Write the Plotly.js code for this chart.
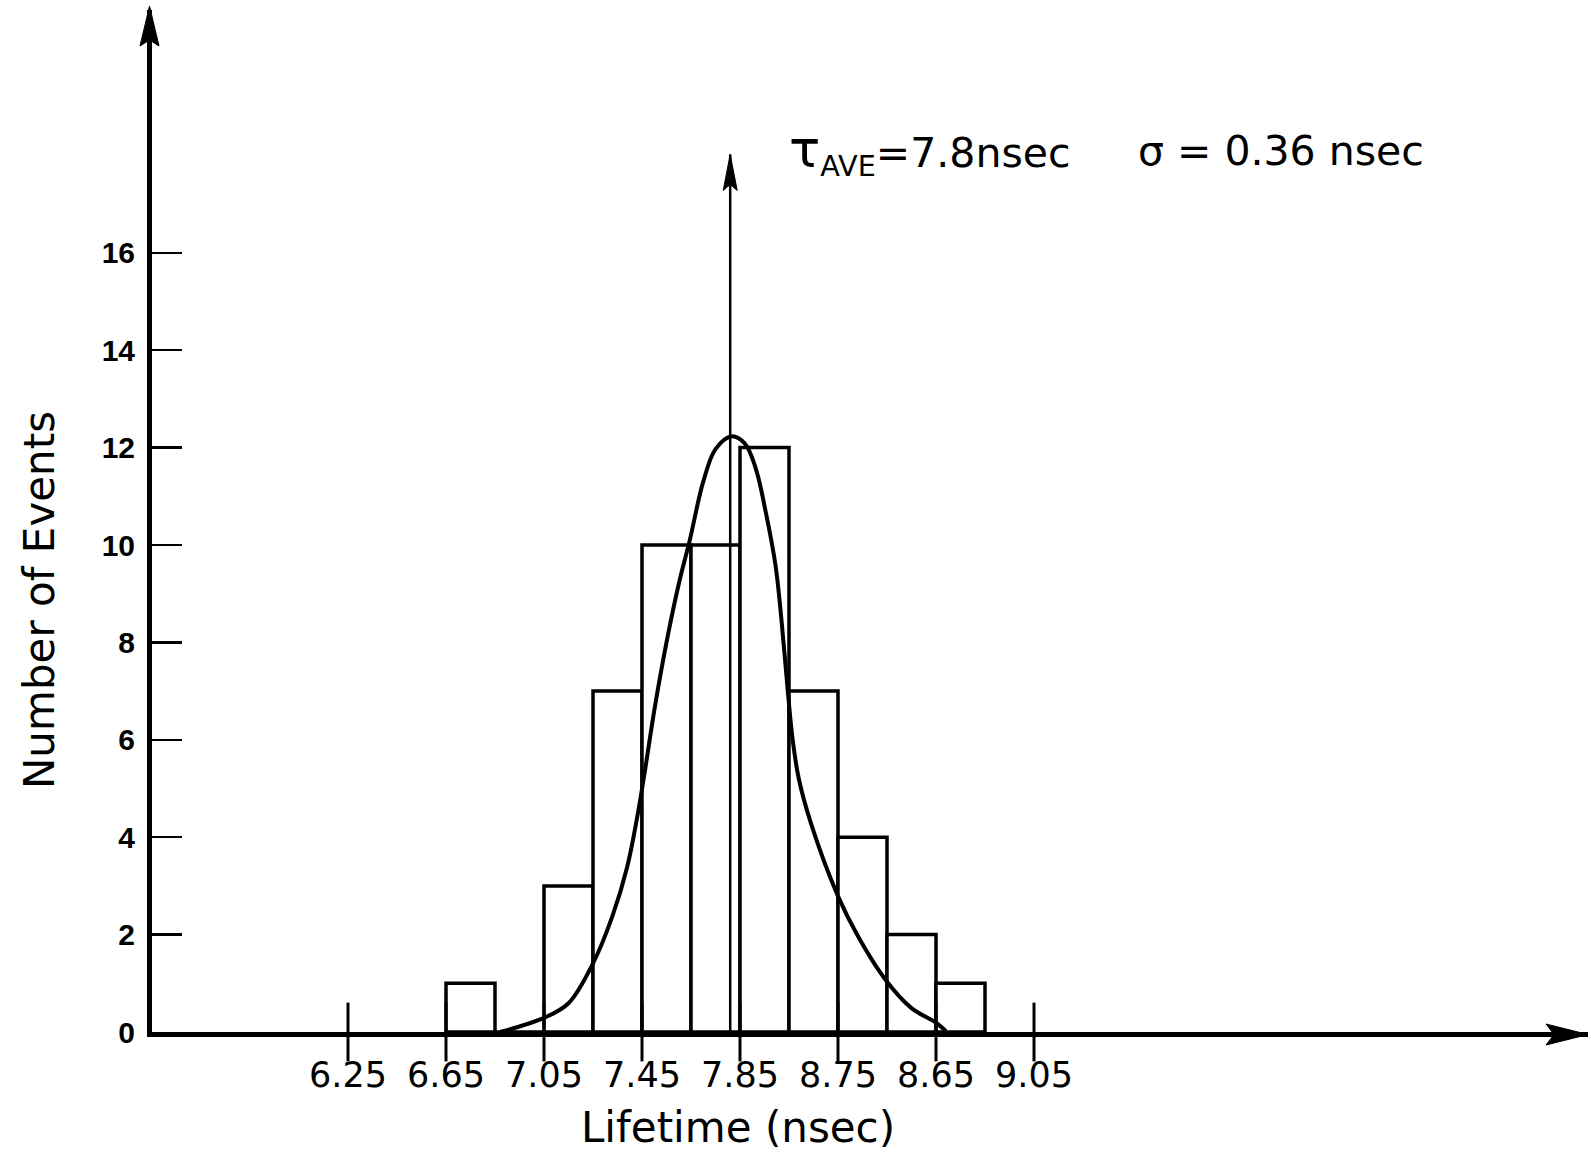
<!DOCTYPE html>
<html>
<head>
<meta charset="utf-8">
<script src="https://cdn.plot.ly/plotly-3.0.1.min.js"></script>
<style>html,body{margin:0;padding:0;background:#fff;}#chart{width:1591px;height:1157px;}</style>
</head>
<body>
<div id="chart"></div>
<script>
// ---- data ----
const binCenters = [6.75, 6.95, 7.15, 7.35, 7.55, 7.75, 7.95, 8.15, 8.35, 8.55, 8.75];
const eventCounts = [1, 0, 3, 7, 10, 10, 12, 7, 4, 2, 1];
const binWidth = 0.2;

const xTickValues = [6.25, 6.65, 7.05, 7.45, 7.85, 8.25, 8.65, 9.05];
const xTickLabels = ["6.25", "6.65", "7.05", "7.45", "7.85", "8.75", "8.65", "9.05"];
const yTickValues = [0, 2, 4, 6, 8, 10, 12, 14, 16];
const yTickLabels = ["0", "2", "4", "6", "8", "10", "12", "14", "16"];

const fitX = [6.87, 7.05, 7.15, 7.25, 7.33, 7.39, 7.43, 7.46, 7.50, 7.55, 7.60, 7.645, 7.70, 7.75, 7.815, 7.87, 7.915, 7.955, 7.995, 8.02, 8.045, 8.065, 8.09, 8.14, 8.25, 8.33, 8.44, 8.55, 8.65, 8.69];
const fitY = [0.0, 0.29, 0.59, 1.41, 2.39, 3.4, 4.4, 5.3, 6.6, 8.0, 9.2, 10.1, 11.3, 11.97, 12.23, 12.08, 11.56, 10.68, 9.58, 8.42, 7.0, 6.0, 5.2, 4.28, 2.79, 1.98, 1.10, 0.49, 0.19, 0.02];

const meanArrowX = 7.81;
const meanArrowTop = 18.02;

const xTitle = "Lifetime (nsec)";
const yTitle = "Number of Events";
const tauText = "<span style='font-size:52px'>τ</span><sub>AVE</sub>=7.8nsec";
const sigmaText = "σ = 0.36 nsec";

// ---- geometry (pixels) ----
const W = 1591, H = 1157;
const M = {l: 152, r: 3, t: 10, b: 125};
const plotW = W - M.l - M.r, plotH = H - M.t - M.b;
const xStart = 5.450, pxPerX = 245;
const pxPerY = 48.7;
const xDomEnd = 0.8162;
const yDomEnd = 0.8454;
const xEnd = xStart + xDomEnd * plotW / pxPerX;
const yEnd = yDomEnd * plotH / pxPerY;
const arrowTopPaper = meanArrowTop / yEnd * yDomEnd;

// ---- traces ----
const bars = {
  type: "bar", x: binCenters, y: eventCounts, width: binWidth,
  marker: {color: "#ffffff", line: {color: "#000000", width: 3.5}},
  hoverinfo: "skip"
};
const fit = {
  type: "scatter", mode: "lines", x: fitX, y: fitY,
  line: {color: "#000000", width: 4, shape: "spline", smoothing: 1},
  hoverinfo: "skip"
};
const xTickMarks = {
  type: "scatter", mode: "markers", x: xTickValues, y: xTickValues.map(() => 0),
  marker: {symbol: "line-ns", size: 42, line: {color: "#000000", width: 3}},
  cliponaxis: false, hoverinfo: "skip"
};

const blk = "#000000";
const layout = {
  width: W, height: H,
  margin: M,
  paper_bgcolor: "#ffffff", plot_bgcolor: "#ffffff",
  showlegend: false, bargap: 0,
  font: {family: "DejaVu Sans, sans-serif", color: blk},
  xaxis: {
    domain: [0, xDomEnd],
    range: [xStart, xEnd], showgrid: false, zeroline: false,
    showline: true, linecolor: blk, linewidth: 5,
    tickmode: "array", tickvals: xTickValues, ticktext: xTickLabels,
    ticks: "", ticklabelstandoff: 8,
    tickfont: {family: "DejaVu Sans, sans-serif", size: 35, color: blk},
    title: {text: xTitle, standoff: 20, font: {family: "DejaVu Sans, sans-serif", size: 42, color: blk}}
  },
  yaxis: {
    domain: [0, yDomEnd],
    range: [0, yEnd], showgrid: false, zeroline: false,
    showline: true, linecolor: blk, linewidth: 5,
    tickmode: "array", tickvals: yTickValues, ticktext: yTickLabels,
    ticks: "inside", ticklen: 30, tickwidth: 2.5, tickcolor: blk,
    ticklabelstandoff: 6,
    tickfont: {family: "Liberation Sans, Arial, sans-serif", size: 30, weight: "bold", color: blk},
    title: {text: yTitle, standoff: 35, font: {family: "DejaVu Sans, sans-serif", size: 42, color: blk}}
  },
  shapes: [
    // x axis extension beyond the domain
    {type: "line", xref: "paper", yref: "paper", ysizemode: "pixel", yanchor: 0,
     x0: xDomEnd - 0.002, x1: 1, y0: -2.5, y1: -2.5, line: {color: blk, width: 5}},
    // y axis extension above the domain
    {type: "line", xref: "paper", yref: "paper", xsizemode: "pixel", xanchor: 0,
     x0: -2.5, x1: -2.5, y0: yDomEnd - 0.002, y1: 1, line: {color: blk, width: 5}},
    // mean arrow shaft
    {type: "line", xref: "x", yref: "paper", x0: meanArrowX, x1: meanArrowX, y0: 0, y1: arrowTopPaper,
     line: {color: blk, width: 2.5}},
    // mean arrow head
    {type: "path", xref: "x", yref: "paper", xsizemode: "pixel", ysizemode: "pixel",
     xanchor: meanArrowX, yanchor: arrowTopPaper,
     path: "M0,0 L-7,-36 L0,-30 L7,-36 Z", fillcolor: blk, line: {color: blk, width: 1}},
    // y axis arrow head
    {type: "path", xref: "paper", yref: "paper", xsizemode: "pixel", ysizemode: "pixel",
     xanchor: 0, yanchor: 1,
     path: "M-2.5,4 L-12,-36 L-2.5,-30 L7,-36 Z", fillcolor: blk, line: {color: blk, width: 1}},
    // x axis arrow head
    {type: "path", xref: "paper", yref: "paper", xsizemode: "pixel", ysizemode: "pixel",
     xanchor: 1, yanchor: 0,
     path: "M0,-2.5 L-42,8 L-34,-2.5 L-42,-13 Z", fillcolor: blk, line: {color: blk, width: 1}}
  ],
  annotations: [
    {xref: "paper", yref: "paper", x: 0.4422, y: 0.862, xanchor: "left", yanchor: "middle",
     text: tauText, showarrow: false, font: {family: "DejaVu Sans, sans-serif", size: 41, color: blk}},
    {xref: "paper", yref: "paper", x: 0.6852, y: 0.862, xanchor: "left", yanchor: "middle",
     text: sigmaText, showarrow: false, font: {family: "DejaVu Sans, sans-serif", size: 41, color: blk}}
  ]
};

Plotly.newPlot("chart", [bars, fit, xTickMarks], layout, {staticPlot: true, displayModeBar: false});
</script>
</body>
</html>
